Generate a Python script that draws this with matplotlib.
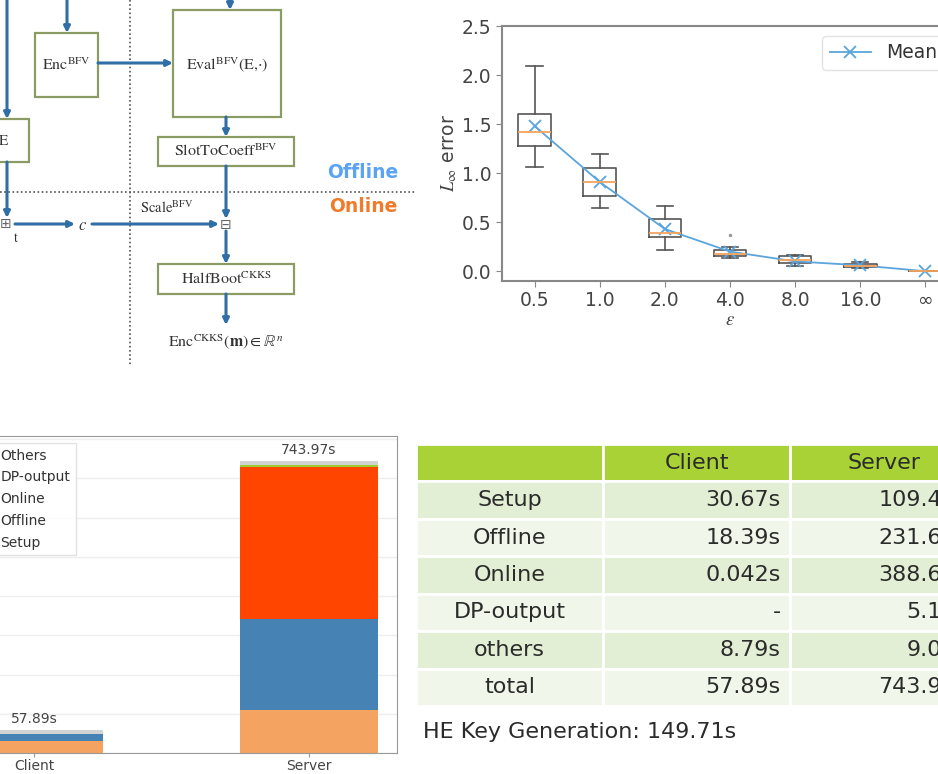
import numpy as np
import matplotlib.pyplot as plt
from matplotlib.patches import Rectangle

plt.rcParams['mathtext.fontset'] = 'stix'

W, H = 938, 774


def px(x0, y0, x1, y1):
    # pixel box (top-left origin) -> figure rect
    return [x0 / W, 1 - y1 / H, (x1 - x0) / W, (y1 - y0) / H]


# ====================== Data ======================
eps_labels = ['0.5', '1.0', '2.0', '4.0', '8.0', '16.0', '∞']
err_whislo = [1.06, 0.64, 0.22, 0.13, 0.05, 0.035, 0.0]
err_q1 = [1.28, 0.77, 0.35, 0.16, 0.08, 0.045, 0.0]
err_med = [1.42, 0.91, 0.39, 0.18, 0.11, 0.055, 0.0]
err_q3 = [1.60, 1.05, 0.53, 0.22, 0.15, 0.075, 0.0]
err_whishi = [2.09, 1.20, 0.66, 0.245, 0.17, 0.09, 0.0]
err_fliers = [[], [], [], [0.37], [], [], []]
err_mean = [1.48, 0.91, 0.43, 0.20, 0.10, 0.06, 0.0]

parties = ['Client', 'Server']
phases = ['Setup', 'Offline', 'Online', 'DP-output', 'Others']
phase_times = {
    'Setup': [30.67, 109.45],
    'Offline': [18.39, 231.62],
    'Online': [0.042, 388.64],
    'DP-output': [0.0, 5.18],
    'Others': [8.79, 9.08],
}
phase_colors = ['#f4a460', '#4682b4', '#ff4500', '#9acd32', '#d3d3d3']
totals = [57.89, 743.97]

table_rows = ['Setup', 'Offline', 'Online', 'DP-output', 'others', 'total']
table_client = ['30.67s', '18.39s', '0.042s', '-', '8.79s', '57.89s']
table_server = ['109.45s', '231.62s', '388.64s', '5.18s', '9.08s', '743.97s']
keygen_time = '149.71s'

fig = plt.figure(figsize=(W / 100, H / 100), dpi=100)

# ====================== Diagram (top-left) ======================
axd = fig.add_axes(px(0, 0, 420, 370))
axd.set_xlim(0, 420)
axd.set_ylim(370, 0)
axd.axis('off')

line_c = '#2f6fa6'
box_c = '#8a9c63'
txt_c = '#333333'
serif = 'STIXGeneral'

axd.plot([130, 130], [0, 365], color='#555555', lw=1.2, ls=(0, (1, 1.5)))
axd.plot([0, 415], [192, 192], color='#555555', lw=1.2, ls=(0, (1, 1.5)))

boxes = [(-10, 119, 29, 162), (35, 33, 98, 97), (173, 10, 281, 117),
         (158, 137, 294, 166), (158, 264, 294, 294)]
for x0, y0, x1, y1 in boxes:
    axd.add_patch(Rectangle((x0, y0), x1 - x0, y1 - y0, fill=False,
                            edgecolor=box_c, lw=1.6))

arrows = [((7, 0), (7, 119)), ((67, 0), (67, 33)), ((98, 63), (173, 63)),
          ((230, 0), (230, 10)), ((226, 117), (226, 137)),
          ((226, 166), (226, 219)), ((7, 162), (7, 218)),
          ((15, 224), (75, 224)), ((92, 224), (219, 224)),
          ((226, 231), (226, 264)), ((226, 294), (226, 325))]
for (xs, ys), (xe, ye) in arrows:
    axd.annotate('', xy=(xe, ye), xytext=(xs, ys),
                 arrowprops=dict(arrowstyle='-|>', color=line_c, lw=2.2,
                                 mutation_scale=9, shrinkA=0, shrinkB=0))

axd.text(4, 141, 'E', ha='center', va='center', fontsize=11, family=serif, color=txt_c)
axd.text(66, 65, r'Enc$^{\mathrm{BFV}}$', ha='center', va='center',
         fontsize=11.5, family=serif, color=txt_c)
axd.text(227, 65, r'Eval$^{\mathrm{BFV}}$(E,$\cdot$)', ha='center', va='center',
         fontsize=11.5, family=serif, color=txt_c)
axd.text(226, 151, r'SlotToCoeff$^{\mathrm{BFV}}$', ha='center', va='center',
         fontsize=11.5, family=serif, color=txt_c)
axd.text(226, 279, r'HalfBoot$^{\mathrm{CKKS}}$', ha='center', va='center',
         fontsize=11.5, family=serif, color=txt_c)
axd.text(226, 342, r'Enc$^{\mathrm{CKKS}}$$(\mathbf{m}) \in \mathbb{R}^{n}$',
         ha='center', va='center', fontsize=11.5, family=serif, color=txt_c)
axd.text(167, 208, r'Scale$^{\mathrm{BFV}}$', ha='center', va='center',
         fontsize=10.5, family=serif, color=txt_c)
axd.text(83, 225, r'$\mathbf{\mathit{c}}$', ha='center', va='center',
         fontsize=12, color=txt_c)
axd.text(16, 238, 't', ha='center', va='center', fontsize=10, family=serif, color=txt_c)
axd.text(6, 224, '⊞', ha='center', va='center', fontsize=10, color='#666666')
axd.text(226, 225, '⊟', ha='center', va='center', fontsize=10, color='#666666')
axd.text(363, 172, 'Offline', ha='center', va='center', fontsize=13.5,
         fontweight='bold', family='DejaVu Sans', color='#5ba3f5')
axd.text(363, 207, 'Online', ha='center', va='center', fontsize=13.5,
         fontweight='bold', family='DejaVu Sans', color='#f07b2b')

# ====================== Box plot (top-right) ======================
axb = fig.add_axes(px(502, 26, 958, 281))
stats = []
for i in range(len(eps_labels)):
    stats.append(dict(med=err_med[i], q1=err_q1[i], q3=err_q3[i],
                      whislo=err_whislo[i], whishi=err_whishi[i],
                      fliers=err_fliers[i], mean=err_mean[i]))
positions = np.arange(1, len(eps_labels) + 1)
gray = '#555555'
axb.bxp(stats, positions=positions, widths=0.5, showfliers=True,
        boxprops=dict(color=gray, lw=1.2),
        whiskerprops=dict(color=gray, lw=1.2),
        capprops=dict(color=gray, lw=1.2),
        medianprops=dict(color='#f5a35c', lw=1.3),
        flierprops=dict(marker='.', markersize=3, markerfacecolor='#999999',
                        markeredgecolor='#999999'))
axb.plot(positions, err_mean, color='#5aa5dc', marker='x', ms=8, mew=1.3,
         lw=1.3, label='Mean')
axb.set_xlim(0.5, 7.5)
axb.set_ylim(-0.1, 2.5)
axb.set_yticks([0.0, 0.5, 1.0, 1.5, 2.0, 2.5])
axb.set_xticks(positions)
axb.set_xticklabels(eps_labels)
axb.tick_params(labelsize=13.5, colors='#444444', length=4, color='#888888')
for s in axb.spines.values():
    s.set_color('#888888')
    s.set_linewidth(1.5)
axb.set_ylabel(r'$L_\infty$ error', fontsize=13.5, color='#444444', labelpad=2)
axb.set_xlabel(r'$\varepsilon$', fontsize=13.5, color='#444444', labelpad=0)
axb.legend(loc='upper left', bbox_to_anchor=(822 / W, 1 - 36 / H),
           bbox_transform=fig.transFigure, borderaxespad=0, fontsize=13.5,
           edgecolor='#dddddd', handlelength=2.2, labelcolor='#333333')

# ====================== Stacked bars (bottom-left) ======================
axs = fig.add_axes(px(-54, 436, 397, 753))
xpos = np.arange(len(parties))
bottom = np.zeros(len(parties))
bars = None
for name, col in zip(phases, phase_colors):
    vals = np.array(phase_times[name])
    bars = axs.bar(xpos, vals, 0.5, bottom=bottom, color=col, label=name,
                   edgecolor='none')
    bottom += vals
axs.bar_label(bars, labels=[f'{t:.2f}s' for t in totals], padding=3,
              fontsize=10, color='#444444')
axs.set_xlim(-0.32, 1.32)
axs.set_ylim(0, 808)
axs.set_xticks(xpos)
axs.set_xticklabels(parties)
axs.set_yticks(np.arange(0, 801, 100))
axs.yaxis.grid(True, color='#eeeeee', lw=1)
axs.set_axisbelow(True)
axs.tick_params(labelsize=10, colors='#444444', length=3, color='#999999', pad=1)
axs.tick_params(axis='y', labelleft=False, length=0)
for s in axs.spines.values():
    s.set_color('#999999')
handles, labels = axs.get_legend_handles_labels()
axs.legend(handles[::-1], labels[::-1], loc='upper left',
           bbox_to_anchor=(-44 / W, 1 - 443 / H), bbox_transform=fig.transFigure,
           borderaxespad=0, fontsize=10, labelspacing=0.56, edgecolor='#dddddd',
           labelcolor='#333333', fancybox=False)

# ====================== Table (bottom-right) ======================
axt = fig.add_axes(px(416, 444, 977, 706))
nrow = len(table_rows) + 1
axt.set_xlim(0, 3)
axt.set_ylim(nrow, 0)
axt.axis('off')
header = ['', 'Client', 'Server']
for j, h in enumerate(header):
    axt.add_patch(Rectangle((j, 0), 1, 1, facecolor='#a8d235', edgecolor='white', lw=2))
    axt.text(j + 0.5, 0.5, h, ha='center', va='center', fontsize=16, color='#2b2b2b')
for i, lab in enumerate(table_rows):
    fc = '#e2efd5' if i % 2 == 0 else '#f0f6e9'
    r = i + 1
    for j in range(3):
        axt.add_patch(Rectangle((j, r), 1, 1, facecolor=fc, edgecolor='white', lw=2))
    axt.text(0.5, r + 0.5, lab, ha='center', va='center', fontsize=16, color='#2b2b2b')
    axt.text(1.95, r + 0.5, table_client[i], ha='right', va='center', fontsize=16,
             color='#2b2b2b')
    axt.text(2.95, r + 0.5, table_server[i], ha='right', va='center', fontsize=16,
             color='#2b2b2b')

fig.text(423 / W, 1 - 732 / H, f'HE Key Generation: {keygen_time}', ha='left',
         va='center', fontsize=16, color='#2b2b2b')

fig.savefig('out.png', dpi=100)
